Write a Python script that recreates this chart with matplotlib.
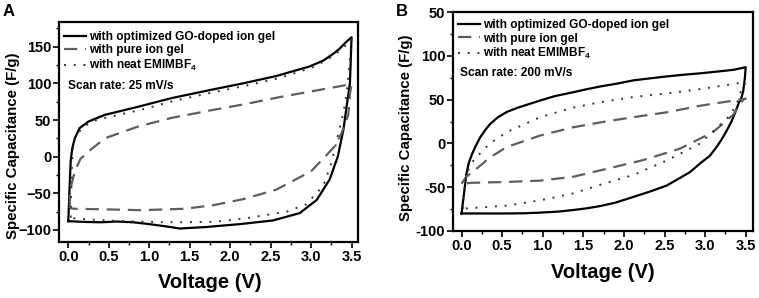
import numpy as np
import matplotlib
matplotlib.use("Agg")
import matplotlib.pyplot as plt
from matplotlib.ticker import MultipleLocator

plt.rcParams['font.family'] = ['Liberation Sans', 'DejaVu Sans']
plt.rcParams['font.weight'] = 'bold'
plt.rcParams['mathtext.fontset'] = 'custom'
plt.rcParams['mathtext.rm'] = 'Liberation Sans:bold'
plt.rcParams['mathtext.bf'] = 'Liberation Sans:bold'

# Panel A, 25 mV/s (loop: left side up, upper branch, right side down, lower branch back)
a_go_v = [0.0, 0.01, 0.02, 0.03, 0.05, 0.08, 0.14, 0.25, 0.45, 0.86, 1.28, 1.8, 2.16, 2.57, 2.98, 3.15, 3.27, 3.35, 3.42, 3.5,
          3.49, 3.48, 3.44, 3.4, 3.33, 3.23, 3.07, 2.86, 2.53, 2.12, 1.7, 1.38, 1.2, 1.0, 0.8, 0.6, 0.4, 0.2, 0.0]
a_go_c = [-88, -60, -30, -5, 12, 25, 39, 48, 57, 68, 80, 92, 100, 110, 123, 131, 140, 147, 155, 163,
          130, 100, 69, 37, 0, -31, -59, -77, -87, -92, -96, -98, -95, -92, -89.5, -88.5, -89.5, -89, -88]

a_gel_v = [0.02, 0.02, 0.08, 0.15, 0.25, 0.45, 0.86, 1.28, 1.8, 2.2, 2.6, 3.0, 3.5,
           3.48, 3.46, 3.38, 3.3, 3.19, 3.0, 2.57, 2.16, 1.8, 1.45, 0.9, 0.5, 0.06, 0.02]
a_gel_c = [-70, -47, -20, -3, 7, 25, 41, 53, 64, 72, 81, 89, 99,
           85, 57, 33, 15, 2, -20, -45, -58, -66, -71, -73, -72, -71, -70]

a_neat_v = [0.03, 0.035, 0.045, 0.06, 0.1, 0.2, 0.35, 0.5, 0.9, 1.3, 1.8, 2.2, 2.6, 3.0, 3.2, 3.35, 3.45, 3.5,
            3.47, 3.44, 3.4, 3.33, 3.25, 3.15, 2.94, 2.7, 2.2, 1.8, 1.2, 0.7, 0.3, 0.05, 0.03]
a_neat_c = [-83, -50, -10, 15, 30, 42, 50, 54, 64, 76, 88, 97, 107, 121, 132, 144, 154, 160,
            120, 87, 60, 28, -9, -40, -65, -75, -84, -89, -89.5, -88, -86, -84, -83]

# Panel B, 200 mV/s
b_go_v = [0.0, 0.02, 0.04, 0.06, 0.09, 0.13, 0.18, 0.23, 0.29, 0.35, 0.45, 0.56, 0.7, 0.97, 1.15, 1.38, 1.55, 1.71,
          1.9, 2.12, 2.3, 2.53, 2.75, 2.94, 3.15, 3.35, 3.45, 3.5,
          3.49, 3.47, 3.45, 3.41, 3.37, 3.33, 3.28, 3.22, 3.15, 3.06, 2.95, 2.81, 2.68, 2.53, 2.32, 2.12, 1.9, 1.71,
          1.55, 1.38, 1.2, 0.97, 0.8, 0.56, 0.3, 0.06, 0.0]
b_go_c = [-80, -65, -50, -35, -22, -12, -2, 7, 15, 22, 30, 36, 41, 49, 54, 58.5, 62, 65,
          68, 72, 74, 76.5, 78.5, 80, 82, 84, 86, 87,
          75, 60, 53, 45, 35, 26, 17, 7, -3, -14, -22, -33, -40, -48, -55, -61, -67.5, -71.5,
          -74, -76, -77.8, -79, -79.7, -80, -80, -80, -80]

b_gel_v = [0.0, 0.06, 0.21, 0.35, 0.56, 0.97, 1.38, 1.71, 2.12, 2.53, 2.94, 3.5,
           3.47, 3.43, 3.35, 3.1, 2.69, 2.24, 1.79, 1.38, 0.97, 0.56, 0.12, 0.0]
b_gel_c = [-46, -38, -27, -16, -4, 9, 18.5, 24, 30, 35.5, 43, 51,
           50, 45, 33, 13, -6, -19, -29, -38, -42.5, -44, -45, -46]

b_neat_v = [0.02, 0.02, 0.06, 0.15, 0.35, 0.56, 0.97, 1.38, 1.71, 2.12, 2.53, 2.94, 3.5,
            3.43, 3.39, 3.31, 2.94, 2.53, 2.12, 1.75, 1.38, 0.97, 0.56, 0.02]
b_neat_c = [-74.5, -65, -34.5, -19, 0, 13, 30, 41, 47, 53, 57, 62, 70,
            57, 45, 32, 0, -19.4, -36, -46, -57, -65, -71, -74.5]

labels = ['with optimized GO-doped ion gel', 'with pure ion gel', r'with neat EMIMBF$_\mathbf{4}$']
x_ticks = [0.0, 0.5, 1.0, 1.5, 2.0, 2.5, 3.0, 3.5]

fig = plt.figure(figsize=(7.59, 2.98), dpi=100)
axA = fig.add_axes([59/759, 1-242/298, 299/759, 220/298])
axB = fig.add_axes([453/759, 1-231/298, 300/759, 219/298])


def dibujar(ax, go_v, go_c, gel_v, gel_c, neat_v, neat_c):
    ax.plot(go_v, go_c, color='black', lw=1.6, label=labels[0])
    ax.plot(gel_v, gel_c, color='#5e5e5e', lw=1.6, dashes=(6, 3.5), label=labels[1])
    ax.plot(neat_v, neat_c, color='#333333', lw=1.4, linestyle=(0, (1, 4)), label=labels[2])
    ax.set_xticks(x_ticks)
    ax.xaxis.set_minor_locator(MultipleLocator(0.25))
    ax.yaxis.set_minor_locator(MultipleLocator(25))
    ax.tick_params(which='major', direction='out', length=4, width=1.2, labelsize=10.5, pad=1.5)
    ax.tick_params(which='minor', direction='out', length=2, width=1.0)
    for s in ax.spines.values():
        s.set_linewidth(1.6)
    for t in ax.get_xticklabels() + ax.get_yticklabels():
        t.set_fontweight('bold')


dibujar(axA, a_go_v, a_go_c, a_gel_v, a_gel_c, a_neat_v, a_neat_c)
axA.set_xlim(-0.115, 3.58)
axA.set_ylim(-116.4, 183.7)
axA.set_yticks([-100, -50, 0, 50, 100, 150])
axA.legend(loc='upper left', bbox_to_anchor=(0.0, 0.982), frameon=False, fontsize=8.6,
           handlelength=1.9, handletextpad=0.25, labelspacing=0.14, borderaxespad=0.2, borderpad=0.2)
axA.text(0.03, 0.709, 'Scan rate: 25 mV/s', transform=axA.transAxes, fontsize=8.6,
         fontweight='bold', va='center', ha='left')

dibujar(axB, b_go_v, b_go_c, b_gel_v, b_gel_c, b_neat_v, b_neat_c)
axB.set_xlim(-0.105, 3.59)
axB.set_ylim(-100, 150)
axB.set_yticks([-100, -50, 0, 50, 100, 150])
axB.set_yticklabels(['-100', '-50', '0', '50', '100', '50'], fontweight='bold')
axB.legend(loc='upper left', bbox_to_anchor=(0.0, 0.99), frameon=False, fontsize=8.6,
           handlelength=1.9, handletextpad=0.25, labelspacing=0.14, borderaxespad=0.2, borderpad=0.2)
axB.text(0.023, 0.721, 'Scan rate: 200 mV/s', transform=axB.transAxes, fontsize=8.6,
         fontweight='bold', va='center', ha='left')

# axis titles and panel letters
fig.text(13/759, 1-146/298, 'Specific Capacitance (F/g)', rotation=90, fontsize=10.8,
         fontweight='bold', ha='center', va='center')
fig.text(210/759, 1-282/298, 'Voltage (V)', fontsize=14.5, fontweight='bold', ha='center', va='center')
fig.text(406/759, 1-128/298, 'Specific Capacitance (F/g)', rotation=90, fontsize=10.8,
         fontweight='bold', ha='center', va='center')
fig.text(603/759, 1-273/298, 'Voltage (V)', fontsize=14.5, fontweight='bold', ha='center', va='center')
fig.text(9/759, 1-12/298, 'A', fontsize=12, fontweight='bold', ha='center', va='center')
fig.text(402/759, 1-12/298, 'B', fontsize=12, fontweight='bold', ha='center', va='center')

fig.savefig('out.png', dpi=100)
